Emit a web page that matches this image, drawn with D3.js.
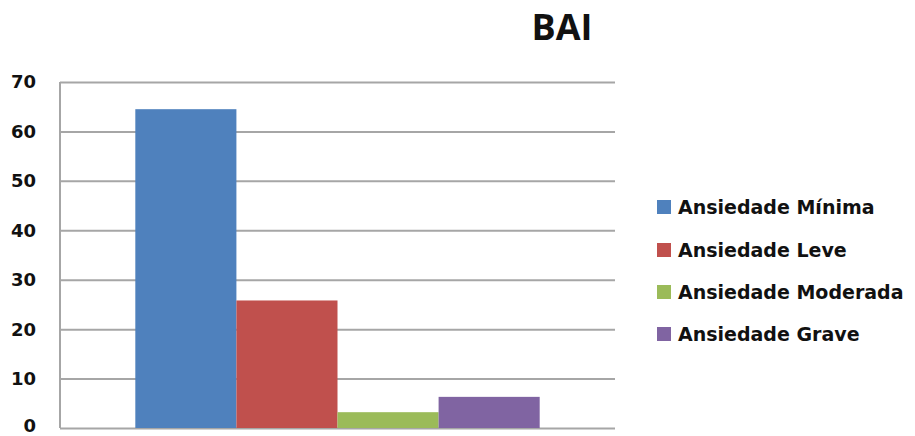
<!DOCTYPE html>
<html>
<head>
<meta charset="utf-8">
<script src="https://cdn.jsdelivr.net/npm/d3@7"></script>
<style>
  body { margin: 0; background: #fff; }
  svg { display: block; }
</style>
</head>
<body>
<svg id="chart" width="915" height="436"></svg>
<script>
// --- Data ---
const categories = ["BAI"];
const seriesNames = ["Ansiedade Mínima", "Ansiedade Leve", "Ansiedade Moderada", "Ansiedade Grave"];
const seriesValues = [64.5, 25.8, 3.2, 6.3];
const seriesColors = ["#4f81bd", "#c0504d", "#9bbb59", "#8064a2"];
const yTicks = [0, 10, 20, 30, 40, 50, 60, 70];

const svg = d3.select("#chart");
const font = "'DejaVu Sans', sans-serif";

const plot = { left: 60, right: 615, top: 82, bottom: 428 };

const y = d3.scaleLinear().domain([0, 70]).range([plot.bottom, plot.top]);
const x0 = d3.scaleBand().domain(categories).range([plot.left, plot.right]).padding(0.157);
const x1 = d3.scaleBand().domain(seriesNames).range([0, x0.bandwidth()]);

// gridlines
svg.append("g")
    .attr("transform", `translate(${plot.left},0)`)
    .call(d3.axisLeft(y).tickValues(yTicks).tickSize(-(plot.right - plot.left)).tickFormat(""))
    .call(g => g.select(".domain").remove())
    .selectAll(".tick line")
        .attr("stroke", "#a6a6a6")
        .attr("stroke-width", 2);

// vertical axis line
svg.append("line")
    .attr("x1", plot.left).attr("x2", plot.left)
    .attr("y1", plot.top).attr("y2", plot.bottom)
    .attr("stroke", "#a6a6a6")
    .attr("stroke-width", 2);

// tick labels (the 0 label sits a bit higher so it is not clipped)
svg.append("g")
    .selectAll("text")
    .data(yTicks)
    .join("text")
    .attr("x", 36)
    .attr("y", d => d === 0 ? y(d) - 2 : y(d))
    .attr("dy", "0.36em")
    .attr("text-anchor", "end")
    .attr("font-family", font)
    .attr("font-weight", "bold")
    .attr("font-size", 18)
    .attr("fill", "#111")
    .text(d => d);

// bars
const groups = svg.append("g")
    .selectAll("g")
    .data(categories)
    .join("g")
    .attr("transform", d => `translate(${x0(d)},0)`);

groups.selectAll("rect")
    .data(() => seriesNames.map((name, i) => ({ name, value: seriesValues[i], color: seriesColors[i] })))
    .join("rect")
    .attr("x", d => x1(d.name))
    .attr("y", d => y(d.value))
    .attr("width", x1.bandwidth())
    .attr("height", d => y(0) - y(d.value))
    .attr("fill", d => d.color);

// title
svg.append("text")
    .attr("x", 562)
    .attr("y", 40)
    .attr("text-anchor", "middle")
    .attr("font-family", "'Open Sans', sans-serif")
    .attr("font-weight", "bold")
    .attr("font-size", 36)
    .attr("fill", "#111")
    .text(categories[0]);

// legend
const legendY = [207, 250, 292, 334];
const legend = svg.append("g")
    .selectAll("g")
    .data(seriesNames)
    .join("g")
    .attr("transform", (d, i) => `translate(657,${legendY[i]})`);

legend.append("rect")
    .attr("x", 0).attr("y", -7)
    .attr("width", 14).attr("height", 14)
    .attr("fill", (d, i) => seriesColors[i]);

legend.append("text")
    .attr("x", 21)
    .attr("dy", "0.36em")
    .attr("font-family", font)
    .attr("font-weight", "bold")
    .attr("font-size", 19)
    .attr("fill", "#111")
    .text(d => d);
</script>
</body>
</html>
